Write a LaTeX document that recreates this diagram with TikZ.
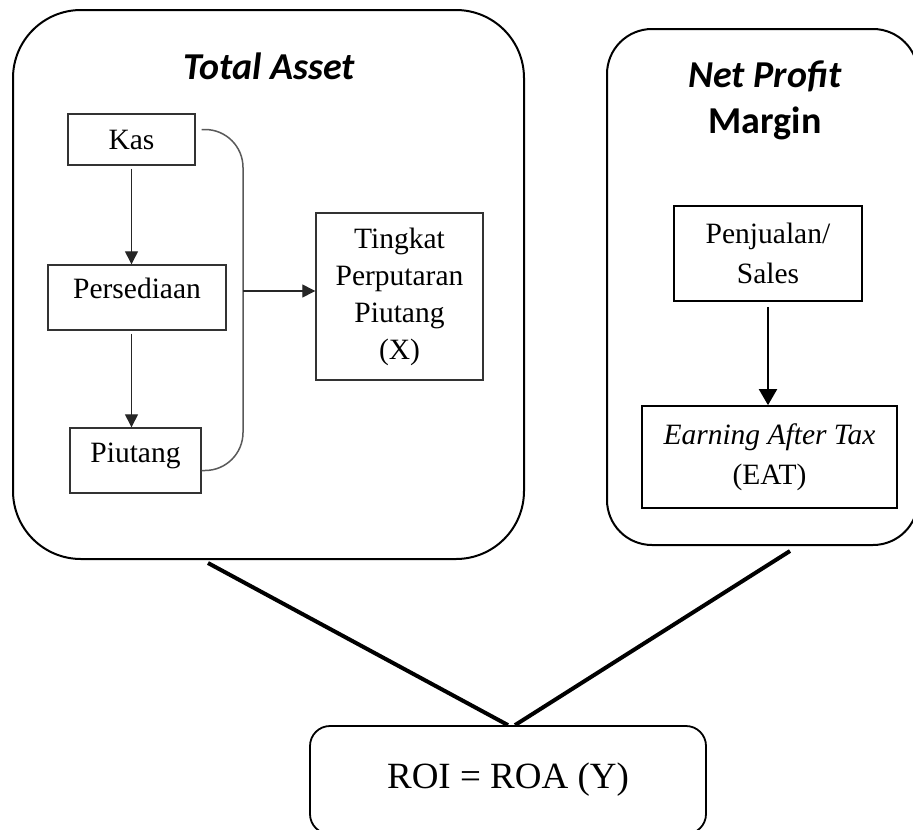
\documentclass[tikz,border=0pt]{standalone}
\usepackage{fontspec}
\setmainfont{Liberation Serif}
\newfontfamily\headfont{Carlito}
\usetikzlibrary{arrows.meta,calc}
\tikzset{
  >={Triangle[length=13pt,width=13pt]},
  bigbox/.style={draw,line width=2pt},
  ibox/.style={draw=black!80,line width=1.4pt,inner sep=0pt,align=center,
    font=\fontsize{29.5}{37}\selectfont},
  rbox/.style={draw,line width=1.7pt,inner sep=0pt,align=center,
    font=\fontsize{29.5}{40}\selectfont},
  ttl/.style={inner sep=0pt,align=center,font=\headfont\fontsize{38}{46}\selectfont\bfseries},
  iarr/.style={->,draw=black!85,line width=1.3pt},
  rarr/.style={-{Triangle[length=16pt,width=18pt]},line width=2pt},
  brk/.style={draw=black!65,line width=1.5pt,rounded corners=38pt},
  vline/.style={line width=4pt},
  roibox/.style={draw,line width=1.8pt,rounded corners=20pt,
    font=\fontsize{37}{44}\selectfont},
}
\begin{document}
\begin{tikzpicture}[x=1pt,y=-1pt]
  \useasboundingbox (0,0) rectangle (913,830);
  \clip (0,0) rectangle (913,830);
  \node[bigbox,rounded corners=68pt,minimum width=511pt,minimum height=549pt] (tabox) at (268.5,284.5) {};
  \node[bigbox,rounded corners=45pt,minimum width=311pt,minimum height=516pt] (npbox) at (762.5,287) {};
  \node[ttl,anchor=base] (tatl) at (269,79) {\itshape Total Asset};
  \node[ttl,anchor=north] (nptl) at (765,61) {\itshape Net Profit\\Margin};
  \node[ibox,minimum width=127pt,minimum height=51pt] (kas) at (131.5,139.5) {Kas};
  \node[ibox,minimum width=178pt,text height=33pt,text depth=32pt,anchor=base] (pers) at (137,298) {Persediaan};
  \node[ibox,minimum width=131pt,text height=34pt,text depth=31pt,anchor=base] (piut) at (135.5,462) {Piutang};
  \node[ibox,minimum width=167pt,minimum height=167pt] (tpp) at (399.5,296.5) {Tingkat\\Perputaran\\Piutang\\(X)};
  \node[rbox,minimum width=188pt,minimum height=95pt] (pjl) at (768,253.5) {Penjualan/\\Sales};
  \node[rbox,minimum width=255pt,minimum height=102pt] (eat) at (769.5,457) {\textit{Earning After Tax}\\(EAT)};
  \node[roibox,minimum width=396pt,minimum height=108pt] (roi) at (508,780) {ROI = ROA (Y)};
  \coordinate (bx) at (243,291);
  \coordinate (tafoot) at (208,563);
  \coordinate (npfoot) at (790,551);
  \draw[iarr,shorten <=3pt] (kas.south) -- (kas.south |- pers.north);
  \draw[iarr,shorten <=3pt] (kas.south |- pers.south) -- (kas.south |- piut.north);
  \draw[brk] ([xshift=6pt,yshift=10pt]kas.east) -| (bx) |- ([yshift=-10pt]piut.east);
  \draw[iarr] (bx) -- (bx -| tpp.west);
  \draw[rarr,shorten <=5pt] (pjl.south) -- (pjl.south |- eat.north);
  \draw[vline] (tafoot) -- (roi.north);
  \draw[vline] (npfoot) -- ([xshift=7pt]roi.north);
\end{tikzpicture}
\end{document}
